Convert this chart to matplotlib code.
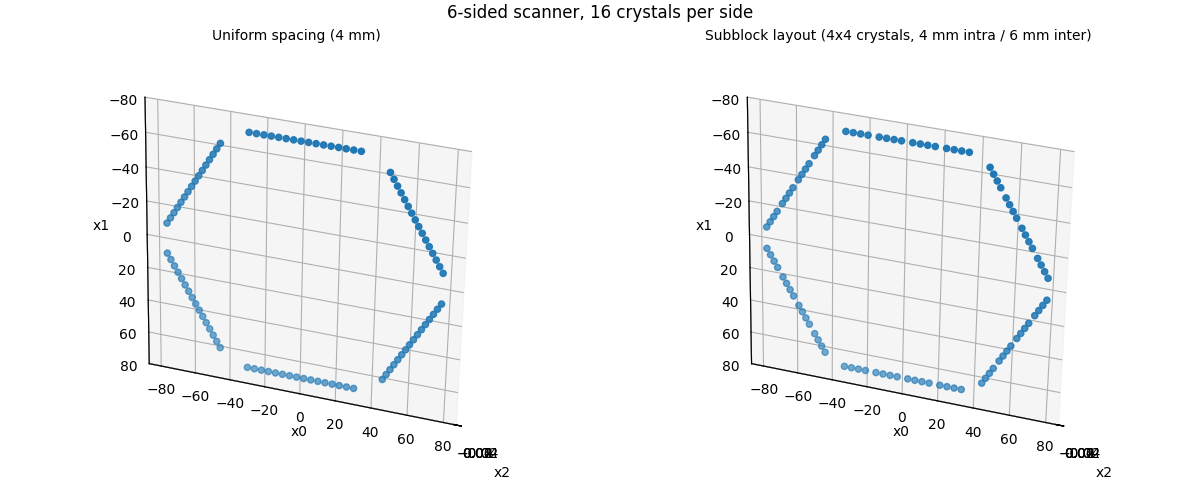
import numpy as np
import matplotlib.pyplot as plt
from matplotlib.colors import to_rgba

# scanner geometry (mm)
side_normal_deg = [90, 150, 210, 270, 330, 30]
apothem = 70.0

# crystal offsets along one side, 16 per side
uniform_offsets = [-30, -26, -22, -18, -14, -10, -6, -2, 2, 6, 10, 14, 18, 22, 26, 30]
subblock_offsets = [-33, -29, -25, -21, -15, -11, -7, -3, 3, 7, 11, 15, 21, 25, 29, 33]

titles = ["Uniform spacing (4 mm)", "Subblock layout (4x4 crystals, 4 mm intra / 6 mm inter)"]
suptitle = "6-sided scanner, 16 crystals per side"
ticks = [-80, -60, -40, -20, 0, 20, 40, 60, 80]

ELEV, AZIM, ROLL = -56, -60, -36


def ring(offsets):
    pts = []
    for deg in side_normal_deg:
        th = np.deg2rad(deg)
        c = apothem * np.array([np.cos(th), np.sin(th)])
        d = np.array([-np.sin(th), np.cos(th)])
        for o in offsets:
            pts.append(c + o * d)
    pts = np.array(pts)
    return pts[:, 0], pts[:, 1], np.zeros(len(pts))


def shaded(x, y):
    # light depth cue: points farther from the camera get paler
    a = np.deg2rad(AZIM)
    depth = -(x * np.cos(a) + y * np.sin(a))
    t = (depth - depth.min()) / (depth.max() - depth.min())
    cols = np.tile(to_rgba("C0"), (len(x), 1))
    cols[:, 3] = 1 - 0.4 * t
    return cols


fig = plt.figure(figsize=(12, 5), dpi=100)
fig.subplots_adjust(left=0.044, right=0.952, bottom=0.02, top=0.904, wspace=0.236)
for i, offsets in enumerate([uniform_offsets, subblock_offsets]):
    ax = fig.add_subplot(1, 2, i + 1, projection="3d")
    x0, x1, x2 = ring(offsets)
    ax.scatter(x0, x1, x2, c=shaded(x0, x1), depthshade=False)
    ax.set_xlim(-87, 87)
    ax.set_ylim(-80, 80)
    ax.set_zlim(-0.05, 0.05)
    ax.set_aspect("equal")
    ax.view_init(elev=ELEV, azim=AZIM, roll=ROLL)
    ax.set_xticks(ticks)
    ax.set_yticks(ticks)
    ax.xaxis.set_ticks_position("lower")
    ax.yaxis.set_ticks_position("lower")
    ax.xaxis.set_label_position("lower")
    ax.yaxis.set_label_position("lower")
    ax.set_xlabel("x0")
    ax.set_ylabel("x1")
    ax.set_zlabel("x2")
    ax.set_title(titles[i], fontsize=10)
fig.suptitle(suptitle, fontsize=12, y=0.993)
fig.savefig("out.png")
